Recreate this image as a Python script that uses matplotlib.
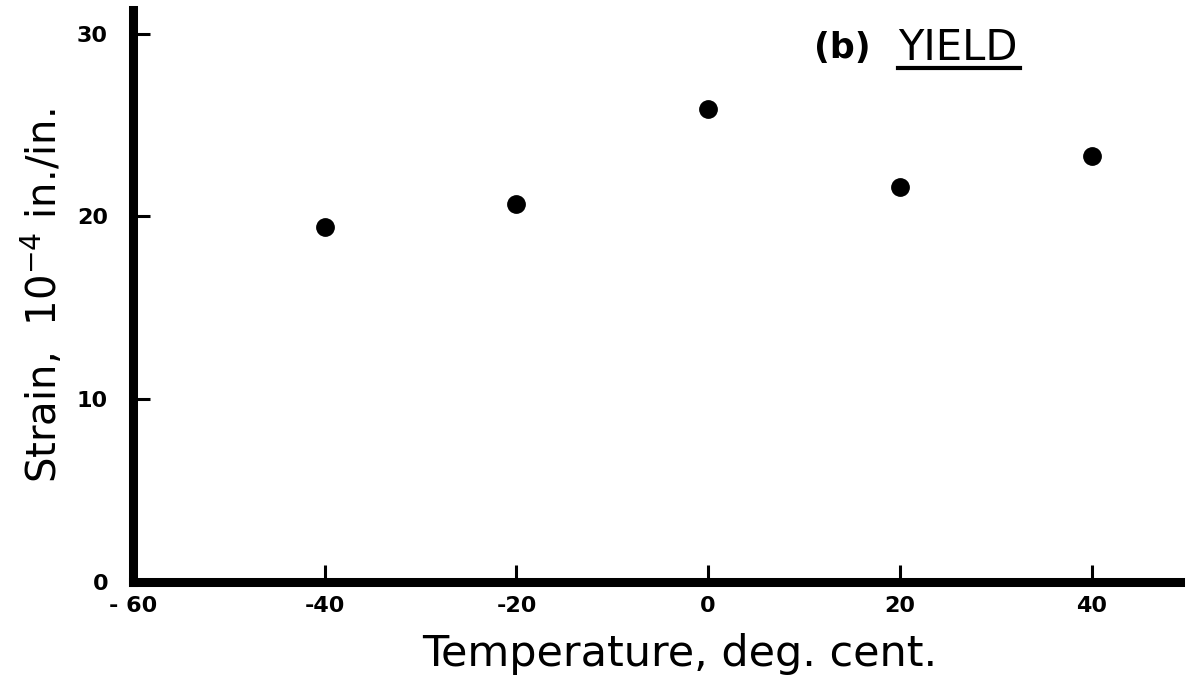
import numpy as np
import matplotlib.pyplot as plt

# Yield strain vs. temperature
temperature = [-40, -20, 0, 20, 40]
strain = [19.4, 20.7, 25.9, 21.6, 23.3]

x_ticks = [-60, -40, -20, 0, 20, 40]
x_tick_labels = ['- 60', '-40', '-20', '0', '20', '40']
y_ticks = [0, 10, 20, 30]

fig = plt.figure(figsize=(11.95, 6.83), dpi=100)
ax = fig.add_axes([0.1113, 0.1479, 0.876, 0.8375])

ax.plot(temperature, strain, 'o', color='black', markersize=12.5)

ax.set_xlim(-60, 49.2)
ax.set_ylim(0, 31.3)

for side in ['top', 'right']:
    ax.spines[side].set_visible(False)
for side in ['left', 'bottom']:
    ax.spines[side].set_linewidth(6.5)
    ax.spines[side].set_capstyle('projecting')

ax.set_xticks(x_ticks)
ax.set_xticklabels(x_tick_labels)
ax.set_yticks(y_ticks)
ax.tick_params(direction='in', length=12, width=2.2, labelsize=16, pad=10)
ax.tick_params(axis='y', pad=18)
for lbl in ax.get_xticklabels() + ax.get_yticklabels():
    lbl.set_fontweight('bold')

ax.set_xlabel('Temperature, deg. cent.', fontsize=31, labelpad=12)
ax.xaxis.label.set_x(0.522)
ax.set_ylabel(r'Strain,  10$^{-4}$ in./in.', fontsize=29, labelpad=8)

ax.text(0.651, 0.934, '(b)', transform=ax.transAxes, fontsize=25,
        fontweight='bold', ha='left', va='center')
ax.text(0.731, 0.934, 'YIELD', transform=ax.transAxes, fontsize=30,
        ha='left', va='center')
ax.plot([0.731, 0.847], [0.899, 0.899], transform=ax.transAxes,
        color='black', linewidth=3, clip_on=False)

fig.savefig('out.png', dpi=100)
